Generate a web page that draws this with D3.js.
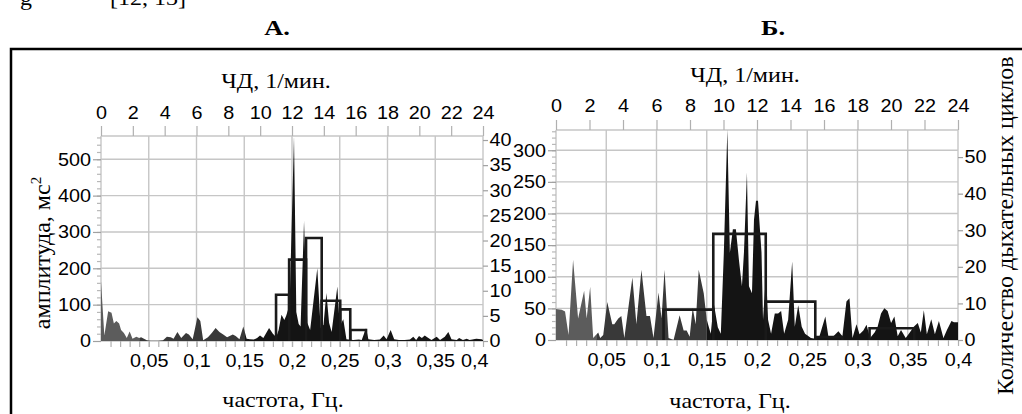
<!DOCTYPE html>
<html>
<head>
<meta charset="utf-8">
<script src="https://cdn.jsdelivr.net/npm/d3@7"></script>
<style>
  body { margin: 0; background: #fff; }
  svg { display: block; }
</style>
</head>
<body>
<div id="chart"></div>
<script>
// ---- Панель А: спектр (частота, Гц -> амплитуда, мс2)
const freqA = [0, 0.0035, 0.0075, 0.011, 0.0135, 0.016, 0.019, 0.021, 0.024, 0.027, 0.030, 0.033, 0.037, 0.040, 0.042, 0.045, 0.048, 0.052, 0.060, 0.065,
  0.069, 0.073, 0.076, 0.080, 0.084, 0.089, 0.092, 0.096, 0.101, 0.104, 0.107, 0.112, 0.116, 0.120, 0.124, 0.128, 0.132, 0.138, 0.141, 0.145,
  0.149, 0.1525, 0.156, 0.160, 0.1635, 0.1665, 0.170, 0.176, 0.180, 0.1835, 0.186, 0.189, 0.192, 0.194, 0.1975, 0.2021, 0.2045, 0.207, 0.209, 0.2126,
  0.216, 0.219, 0.2265, 0.230, 0.233, 0.236, 0.2388, 0.2415, 0.2475, 0.250, 0.2537, 0.257, 0.264, 0.270, 0.273, 0.2775, 0.280, 0.286, 0.292, 0.296,
  0.299, 0.3033, 0.307, 0.312, 0.318, 0.3235, 0.327, 0.330, 0.333, 0.336, 0.339, 0.3416, 0.346, 0.3515, 0.355, 0.360, 0.3637, 0.367, 0.3725, 0.375,
  0.379, 0.383, 0.386, 0.393, 0.3985, 0.4];
const ampA = [165, 15, 82, 78, 48, 55, 48, 30, 22, 8, 26, 6, 12, 8, 10, 6, 2, 1, 1, 2,
  12, 10, 6, 25, 8, 22, 18, 5, 65, 55, 2, 10, 22, 36, 25, 18, 10, 18, 14, 5,
  40, 6, 5, 4, 8, 15, 8, 36, 20, 10, 30, 72, 58, 70, 100, 564, 80, 47, 40, 330,
  50, 30, 200, 36, 45, 132, 50, 25, 150, 40, 60, 5, 3, 4, 3, 35, 5, 3, 4, 15,
  5, 30, 5, 3, 3, 4, 12, 3, 14, 8, 15, 10, 3, 12, 3, 12, 25, 5, 3, 8,
  3, 6, 3, 6, 5, 3];
// гистограмма дыхательных циклов (правая ось)
const binStartA = [0.1833, 0.197, 0.2147, 0.2311, 0.2505, 0.261];
const binEndA   = [0.197, 0.2147, 0.2311, 0.2505, 0.261, 0.2775];
const countA    = [9.2, 16.2, 20.5, 8, 6.3, 2.2];

// ---- Панель Б
const freqB = [0, 0.0057, 0.009, 0.0125, 0.017, 0.022, 0.028, 0.0305, 0.034, 0.037, 0.042, 0.044, 0.047, 0.051, 0.056, 0.058, 0.062, 0.065, 0.068, 0.076,
  0.080, 0.085, 0.090, 0.0935, 0.097, 0.102, 0.105, 0.108, 0.112, 0.117, 0.123, 0.127, 0.130, 0.133, 0.136, 0.139, 0.142, 0.147, 0.150, 0.154,
  0.157, 0.161, 0.164, 0.167, 0.1705, 0.173, 0.176, 0.179, 0.182, 0.185, 0.187, 0.190, 0.192, 0.195, 0.197, 0.199, 0.201, 0.2045, 0.206, 0.209,
  0.211, 0.214, 0.2177, 0.221, 0.224, 0.227, 0.231, 0.235, 0.2376, 0.241, 0.2445, 0.2478, 0.2537, 0.258, 0.262, 0.268, 0.271, 0.276, 0.281, 0.285,
  0.289, 0.292, 0.295, 0.299, 0.302, 0.3058, 0.309, 0.3125, 0.317, 0.320, 0.3234, 0.3267, 0.330, 0.3334, 0.3367, 0.340, 0.3433, 0.348, 0.352, 0.356,
  0.360, 0.363, 0.366, 0.369, 0.3734, 0.377, 0.381, 0.3855, 0.389, 0.3935, 0.396, 0.4];
const ampB = [49, 48, 45, 8, 127, 34, 78, 34, 84, 3, 12, 3, 8, 60, 25, 25, 34, 38, 3, 99,
  25, 111, 38, 38, 3, 75, 34, 111, 3, 0, 39, 15, 15, 5, 51, 25, 111, 74, 32, 10,
  58, 20, 10, 138, 333, 138, 175, 175, 127, 85, 138, 265, 85, 74, 190, 220, 220, 138, 32, 106,
  32, 10, 42, 42, 46, 10, 32, 124, 21, 55, 21, 10, 3, 2, 5, 37, 6, 6, 14, 6,
  61, 66, 3, 25, 9, 15, 24, 3, 12, 21, 42, 50, 46, 27, 37, 6, 16, 3, 12, 21,
  27, 12, 47, 9, 33, 9, 30, 3, 16, 30, 28, 28];
const binStartB = [0.107, 0.1565, 0.2087, 0.258, 0.312];
const binEndB   = [0.1565, 0.2087, 0.258, 0.285, 0.3565];
const countB    = [8.3, 29, 10.5, 0.8, 3.2];

// ---- подписи осей
const freqTicks = [0.05, 0.1, 0.15, 0.2, 0.25, 0.3, 0.35, 0.4];
const rateTicks = [0, 2, 4, 6, 8, 10, 12, 14, 16, 18, 20, 22, 24];
const ampTicksA = [0, 100, 200, 300, 400, 500];
const cycTicksA = [0, 5, 10, 15, 20, 25, 30, 35, 40];
const ampTicksB = [0, 50, 100, 150, 200, 250, 300];
const cycTicksB = [0, 10, 20, 30, 40, 50];
const bands = [[0, 0.04], [0.04, 0.15], [0.15, 0.4]];
const bandColors = ["#5c5c5c", "#393939", "#141414"];

const SANS = "'Liberation Sans', Arial, sans-serif";
const SERIF = "'Liberation Serif', 'Times New Roman', serif";
const sxSans = 1.1, sxSerif = 1.2;
const comma = d => String(d).replace(".", ",");

const svg = d3.select("#chart").append("svg")
  .attr("width", 1022).attr("height", 414);
const defs = svg.append("defs");

// рамка рисунка
svg.append("rect")
  .attr("x", 11).attr("y", 49).attr("width", 1100).attr("height", 500)
  .attr("fill", "none").attr("stroke", "#000").attr("stroke-width", 2.5);

function label(x, y, txt, size, opts = {}) {
  const t = svg.append("text")
    .attr("transform", `translate(${x},${y}) scale(${opts.sx || sxSerif},1)` + (opts.rot ? ` rotate(${opts.rot})` : ""))
    .attr("text-anchor", opts.anchor || "middle")
    .style("font-family", opts.family || SERIF)
    .style("font-size", size + "px")
    .style("font-weight", opts.bold ? "bold" : "normal")
    .attr("fill", "#000");
  t.text(txt);
  return t;
}

function styleAxis(sel, color) {
  sel.select(".domain").remove();
  sel.selectAll(".tick line").attr("stroke", color || "#9a9a9a").attr("stroke-width", 1.2);
  sel.selectAll("text")
    .style("font-family", SANS).style("font-size", "18px").attr("fill", "#000")
    .attr("transform", `scale(${sxSans},1)`);
}

function drawPanel(p) {
  const g = svg.append("g");
  const x = d3.scaleLinear().domain([0, 0.4]).range([p.left, p.right]);
  const xTop = d3.scaleLinear().domain([0, 24]).range([p.left, p.right]);
  const y = d3.scaleLinear().domain([0, p.yMax]).range([p.bottom, p.top]);
  const y2 = d3.scaleLinear().domain([0, p.y2Max]).range([p.bottom, p.top]);

  // сетка
  const grid = g.append("g").attr("stroke", "#c6c6c6").attr("stroke-width", 1.4);
  grid.selectAll(".gv").data([0].concat(freqTicks)).join("line")
    .attr("x1", d => x(d)).attr("x2", d => x(d))
    .attr("y1", p.top).attr("y2", p.bottom);
  grid.selectAll(".gh").data(p.ampTicks.concat([p.yMax])).join("line")
    .attr("x1", p.left).attr("x2", p.right)
    .attr("y1", d => y(d)).attr("y2", d => y(d));

  // спектр, три диапазона разным цветом
  const pts = d3.zip(p.freq, p.amp);
  const area = d3.area().x(d => x(d[0])).y0(y(0)).y1(d => y(d[1]));
  bands.forEach((b, i) => {
    const id = p.id + "-band" + i;
    defs.append("clipPath").attr("id", id).append("rect")
      .attr("x", x(b[0])).attr("y", p.top - 2)
      .attr("width", x(b[1]) - x(b[0])).attr("height", p.bottom - p.top + 4);
    g.append("path").datum(pts)
      .attr("clip-path", `url(#${id})`)
      .attr("fill", bandColors[i])
      .attr("d", area);
  });

  // гистограмма (ступенчатая линия)
  g.append("g").selectAll("path")
    .data(d3.zip(p.binStart, p.binEnd, p.count)).join("path")
    .attr("fill", "none").attr("stroke", "#1a1a1a").attr("stroke-width", 2.6)
    .attr("stroke-linejoin", "miter")
    .attr("d", d => `M${x(d[0])},${y2(0)}V${y2(d[2])}H${x(d[1])}V${y2(0)}`);

  // нижняя ось
  const minorX = d3.range(1, 40).map(i => i / 100);
  const axMinX = g.append("g").attr("transform", `translate(0,${p.bottom})`)
    .call(d3.axisBottom(x).tickValues(minorX).tickSize(6).tickFormat(""));
  styleAxis(axMinX, "#b0b0b0");
  const axX = g.append("g").attr("transform", `translate(0,${p.bottom})`)
    .call(d3.axisBottom(x).tickValues(freqTicks).tickSize(6).tickPadding(7).tickFormat(comma));
  styleAxis(axX, "#b0b0b0");
  if (p.shiftLast) axX.selectAll("text").filter(d => d === 0.4).attr("x", p.shiftLast);

  // верхняя ось ЧД
  const axTop = g.append("g").attr("transform", `translate(0,${p.top})`)
    .call(d3.axisTop(xTop).tickValues(rateTicks).tickSize(10).tickPadding(p.topPad));
  styleAxis(axTop, "#b0b0b0");

  // левая ось
  const minorY = d3.range(p.minorStep, p.yMax, p.minorStep);
  const axMinY = g.append("g").attr("transform", `translate(${p.left},0)`)
    .call(d3.axisLeft(y).tickValues(minorY).tickSize(4).tickFormat(""));
  styleAxis(axMinY, "#b8b8b8");
  const axY = g.append("g").attr("transform", `translate(${p.left},0)`)
    .call(d3.axisLeft(y).tickValues(p.ampTicks).tickSize(8).tickPadding(1));
  styleAxis(axY, "#a0a0a0");

  // правая ось
  const axY2 = g.append("g").attr("transform", `translate(${p.right},0)`)
    .call(d3.axisRight(y2).tickValues(p.cycTicks).tickSize(5).tickPadding(1));
  styleAxis(axY2, "#a0a0a0");
}

drawPanel({
  id: "a", left: 101, right: 483, top: 136, bottom: 341,
  yMax: 564, y2Max: 40.8, minorStep: 20,
  freq: freqA, amp: ampA, binStart: binStartA, binEnd: binEndA, count: countA,
  ampTicks: ampTicksA, cycTicks: cycTicksA, topPad: 7, shiftLast: -8
});
drawPanel({
  id: "b", left: 556, right: 958, top: 130, bottom: 340,
  yMax: 332, y2Max: 57.4, minorStep: 10,
  freq: freqB, amp: ampB, binStart: binStartB, binEnd: binEndB, count: countB,
  ampTicks: ampTicksB, cycTicks: cycTicksB, topPad: 8
});

// заголовки и подписи
label(20, 5, "g", 20, { anchor: "start" });
label(110, 5, "[12, 13]", 20, { anchor: "start" });
label(277, 35, "А.", 22, { bold: true });
label(773, 35, "Б.", 22, { bold: true });
label(276, 88, "ЧД, 1/мин.", 20);
label(745, 82, "ЧД, 1/мин.", 20);
label(283, 407, "частота, Гц.", 20);
label(730, 408, "частота, Гц.", 20);

const ampLabel = label(50, 253, "", 24, { sx: 1, rot: -90 });
ampLabel.append("tspan").text("амплитуда, мс");
ampLabel.append("tspan").attr("dy", -9).style("font-size", "15px").text("2");

label(1013, 395, "Количество дыхательных циклов", 24, { sx: 1, rot: -90, anchor: "start" });
</script>
</body>
</html>
